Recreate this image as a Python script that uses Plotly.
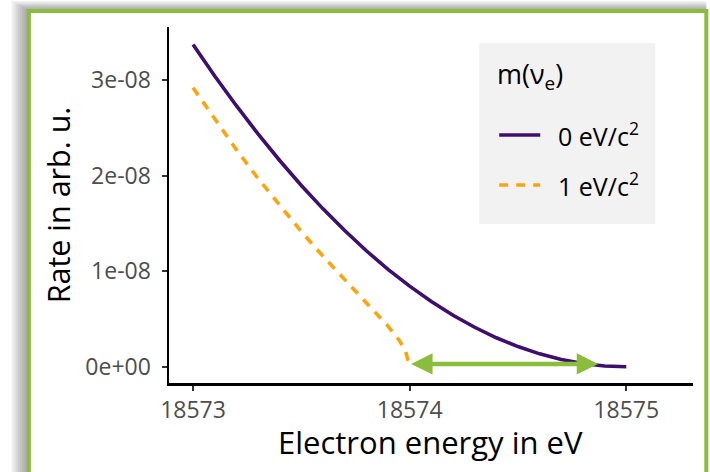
import plotly.graph_objects as go

# ---- data ----
energy_m0 = [18573.0, 18573.1, 18573.2, 18573.3, 18573.4, 18573.5, 18573.6, 18573.7,
             18573.8, 18573.9, 18574.0, 18574.1, 18574.2, 18574.3, 18574.4, 18574.5,
             18574.6, 18574.7, 18574.8, 18574.9, 18575.0]
rate_m0 = [3.37e-8, 3.04e-8, 2.73e-8, 2.435e-8, 2.157e-8, 1.896e-8, 1.651e-8, 1.424e-8,
           1.213e-8, 1.019e-8, 0.843e-8, 0.682e-8, 0.539e-8, 0.413e-8, 0.303e-8, 0.211e-8,
           0.135e-8, 0.076e-8, 0.034e-8, 0.008e-8, 0.0]

energy_m1 = [18573.0, 18573.1, 18573.2, 18573.3, 18573.4, 18573.5, 18573.6, 18573.7,
             18573.8, 18573.9, 18573.95, 18573.98, 18574.0]
rate_m1 = [2.918e-8, 2.586e-8, 2.27e-8, 1.969e-8, 1.684e-8, 1.413e-8, 1.156e-8, 0.91e-8,
           0.671e-8, 0.425e-8, 0.283e-8, 0.173e-8, 0.0]

series_names = ["0 eV/c<sup>2</sup>", "1 eV/c<sup>2</sup>"]
legend_title = "m(ν<sub>e</sub>)"

arrow_x = [18574.0, 18574.87]
arrow_y = 0.03e-8

x_ticks = [18573, 18574, 18575]
y_ticks = [0, 1e-8, 2e-8, 3e-8]
y_tick_labels = ["0e+00", "1e-08", "2e-08", "3e-08"]

x_title = "Electron energy in eV"
y_title = "Rate in arb. u."

PURPLE = "#3E0F6E"
ORANGE = "#FCA50A"
GREEN = "#8BBD3C"
FONT = "Open Sans"

# ---- layout geometry (page pixels; body margin removed by post_script) ----
W, H = 710, 472
L = 169
R = W - 692.7
T = 27
B = H - 383
PW, PH = W - L - R, H - T - B


def px(x):
    return (x - L) / PW


def py(y):
    return (T + PH - y) / PH


fig = go.Figure()
fig.add_trace(go.Scatter(x=energy_m0, y=rate_m0, mode="lines", name=series_names[0],
                         line=dict(color=PURPLE, width=3.6), showlegend=False))
fig.add_trace(go.Scatter(x=energy_m1, y=rate_m1, mode="lines", name=series_names[1],
                         line=dict(color=ORANGE, width=3.6, dash="9px,8px"), showlegend=False))

# double-headed arrow
fig.add_annotation(x=arrow_x[1], y=arrow_y, ax=arrow_x[0], ay=arrow_y,
                   xref="x", yref="y", axref="x", ayref="y", text="",
                   showarrow=True, arrowside="end+start", arrowhead=2, startarrowhead=2,
                   arrowsize=0.95, startarrowsize=0.95, arrowwidth=4.5, arrowcolor=GREEN)

shapes = []
# slide frame with shadow
for k in range(1, 9):
    shapes.append(dict(type="rect", xref="paper", yref="paper", layer="below",
                       x0=px(29 - 2.2 * k), x1=px(706), y0=py(495), y1=py(11 - 1.25 * k),
                       fillcolor="rgba(0,0,0,0.05)", line=dict(width=0)))
shapes.append(dict(type="rect", xref="paper", yref="paper", layer="below",
                   x0=px(29), x1=px(706), y0=py(495), y1=py(11),
                   fillcolor="white", line=dict(width=0)))
shapes.append(dict(type="rect", xref="paper", yref="paper", layer="above",
                   x0=px(29), x1=px(706), y0=py(495), y1=py(11),
                   fillcolor="rgba(0,0,0,0)", line=dict(color=GREEN, width=4)))

# legend (drawn as a key box)
shapes.append(dict(type="rect", xref="paper", yref="paper", layer="below",
                   x0=px(479), x1=px(655), y0=py(224), y1=py(43),
                   fillcolor="#F2F2F2", line=dict(width=0)))
key_y = [135, 185]
key_styles = [dict(color=PURPLE, width=3.6), dict(color=ORANGE, width=3.6, dash="9px,8px")]
annotations = [dict(xref="paper", yref="paper", x=px(495), y=py(76), text=legend_title,
                    showarrow=False, xanchor="left", yanchor="middle",
                    font=dict(size=27, color="black", family=FONT))]
for ky, st, name in zip(key_y, key_styles, series_names):
    shapes.append(dict(type="line", xref="paper", yref="paper", layer="above",
                       x0=px(499), x1=px(540), y0=py(ky), y1=py(ky), line=st))
    annotations.append(dict(xref="paper", yref="paper", x=px(556), y=py(ky - 1), text=name,
                            showarrow=False, xanchor="left", yanchor="middle",
                            font=dict(size=25, color="black", family=FONT)))
# x axis title
annotations.append(dict(xref="paper", yref="paper", x=px(430.5), y=py(442), text=x_title,
                        showarrow=False, xanchor="center", yanchor="middle",
                        font=dict(size=31, color="black", family=FONT)))

fig.update_layout(
    width=W, height=H,
    margin=dict(l=L, r=R, t=T, b=B, pad=0, autoexpand=False),
    paper_bgcolor="white", plot_bgcolor="white",
    font=dict(family=FONT, color="black"),
    showlegend=False,
    shapes=shapes,
    xaxis=dict(range=[18572.889, 18575.308], tickvals=x_ticks,
               ticktext=[str(v) for v in x_ticks], automargin=False,
               showgrid=False, zeroline=False, showline=True, linecolor="black", linewidth=2.5,
               ticks="outside", ticklen=5, tickwidth=2, tickcolor="#333333",
               tickfont=dict(size=23, color="#4D4D4D")),
    yaxis=dict(range=[-0.17e-8, 3.553e-8], tickvals=y_ticks, ticktext=y_tick_labels,
               automargin=False, ticklabelstandoff=6,
               showgrid=False, zeroline=False, showline=True, linecolor="black", linewidth=2.5,
               ticks="outside", ticklen=5, tickwidth=2, tickcolor="#333333",
               tickfont=dict(size=23, color="#4D4D4D"),
               title=dict(text=y_title, font=dict(size=30.5, color="black"), standoff=6)),
)
for a in annotations:
    fig.add_annotation(a)

fig.write_html("out.html", config={"displayModeBar": False, "staticPlot": True},
               post_script="document.body.style.margin='0px';document.body.style.overflow='hidden';")
